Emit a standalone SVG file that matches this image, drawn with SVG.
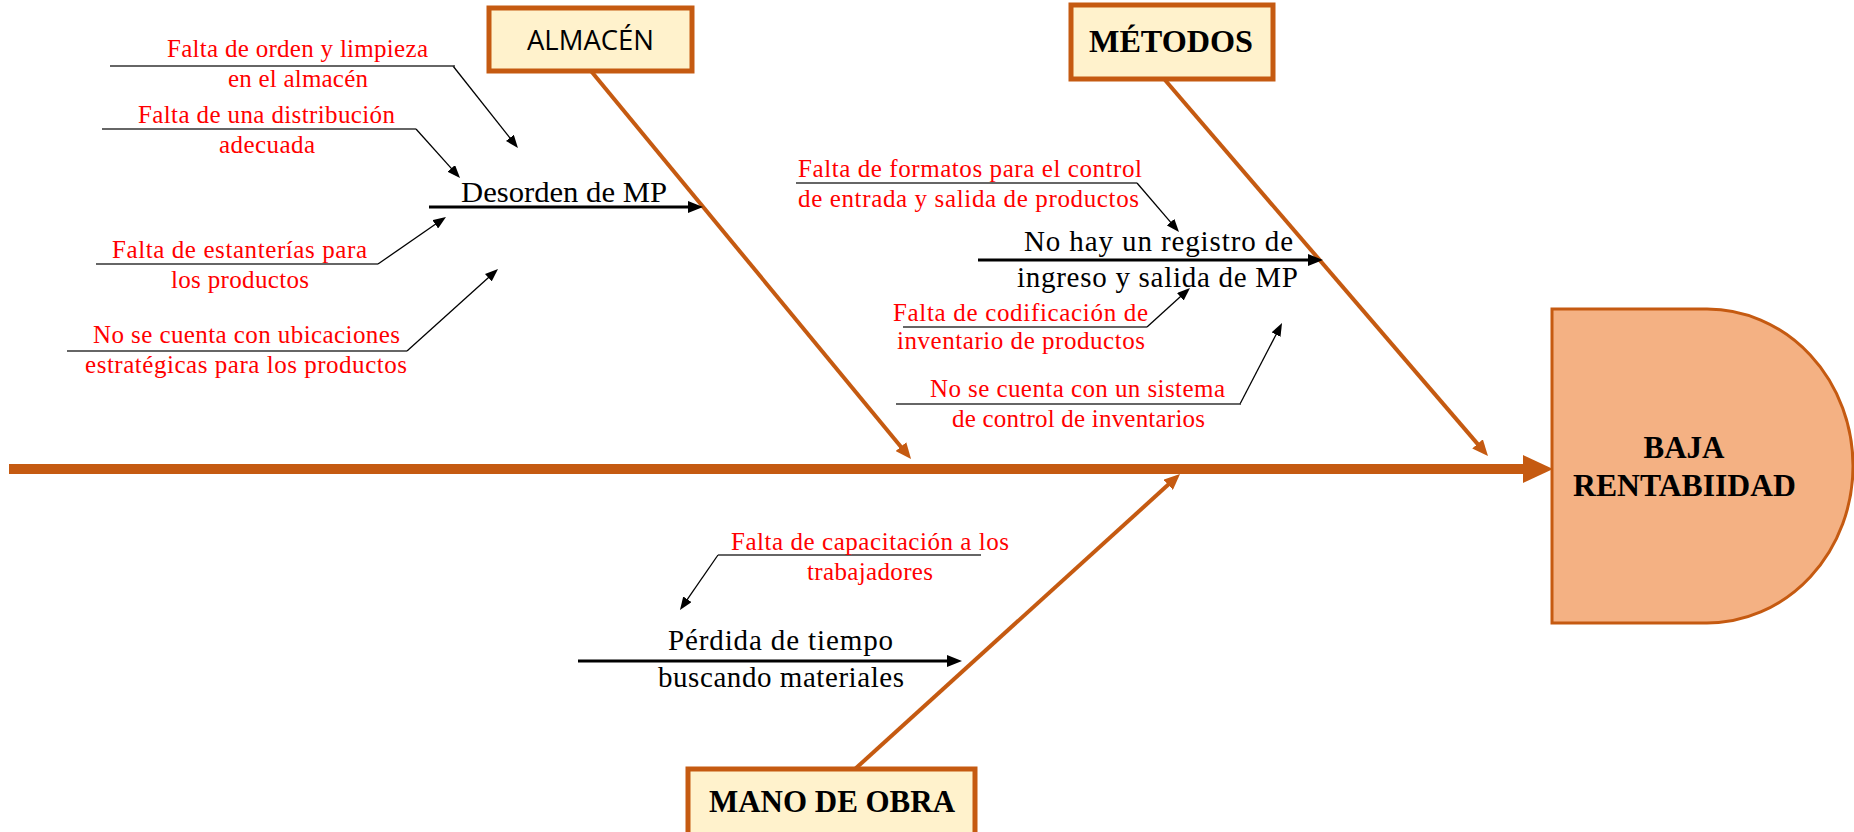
<svg xmlns="http://www.w3.org/2000/svg" width="1854" height="832" viewBox="0 0 1854 832">
<style>
.red{font-family:"Liberation Serif","Times New Roman",serif;font-size:25px;fill:#FF0000}
.blk{font-family:"Liberation Serif","Times New Roman",serif;font-size:29px;fill:#000}
.cat{font-family:"Liberation Serif","Times New Roman",serif;font-size:31px;font-weight:bold;fill:#000}
.box{fill:#FFF2CC;stroke:#C55A11;stroke-width:5}
.ul{stroke:#333;stroke-width:1.5}
.bone{stroke:#C55A11;stroke-width:4;fill:none}
.sub{stroke:#000;stroke-width:3;fill:none}
.thin{stroke:#000;stroke-width:1.3;fill:none}
</style>
<defs>
<marker id="aO" markerUnits="userSpaceOnUse" markerWidth="16" markerHeight="14" refX="1" refY="7" orient="auto"><path d="M0,0 L16,7 L0,14 Z" fill="#C55A11"/></marker>
<marker id="aB" markerUnits="userSpaceOnUse" markerWidth="15" markerHeight="12" refX="1" refY="6" orient="auto"><path d="M0,0 L15,6 L0,12 Z" fill="#000"/></marker>
<marker id="aT" markerUnits="userSpaceOnUse" markerWidth="13" markerHeight="10" refX="1" refY="5" orient="auto"><path d="M0,0 L13,5 L0,10 Z" fill="#000"/></marker>
</defs>
<rect width="1854" height="832" fill="#fff"/>

<g id="connectors">
<line x1="9" y1="469" x2="1524" y2="469" stroke="#C55A11" stroke-width="10"/>
<polygon points="1523,455 1553,469 1523,483" fill="#C55A11"/>
<line class="bone" x1="591" y1="71" x2="901.5" y2="447.4" marker-end="url(#aO)"/>
<line class="bone" x1="1165" y1="80" x2="1478.2" y2="444.6" marker-end="url(#aO)"/>
<line class="bone" x1="855" y1="769" x2="1168.9" y2="484.1" marker-end="url(#aO)"/>
<line class="sub" x1="429" y1="207" x2="689" y2="207" marker-end="url(#aB)"/>
<line class="sub" x1="978" y1="260" x2="1309" y2="260" marker-end="url(#aB)"/>
<line class="sub" x1="578" y1="661" x2="948" y2="661" marker-end="url(#aB)"/>
<line class="thin" x1="453" y1="66" x2="510.5" y2="138.6" marker-end="url(#aT)"/>
<line class="thin" x1="416" y1="129" x2="452" y2="169.1" marker-end="url(#aT)"/>
<line class="thin" x1="378" y1="264" x2="436.1" y2="223.8" marker-end="url(#aT)"/>
<line class="thin" x1="407" y1="351" x2="489.1" y2="277" marker-end="url(#aT)"/>
<line class="thin" x1="1137" y1="183" x2="1171.2" y2="222.9" marker-end="url(#aT)"/>
<line class="thin" x1="1147" y1="327" x2="1181.1" y2="296.1" marker-end="url(#aT)"/>
<line class="thin" x1="1240" y1="404" x2="1276.5" y2="333.7" marker-end="url(#aT)"/>
<line class="thin" x1="718" y1="555" x2="686.8" y2="600.1" marker-end="url(#aT)"/>
</g>

<g id="effect">
<path d="M1552,309 H1707 A146,157 0 0 1 1707,623 H1552 Z" fill="#F4B183" stroke="#C55A11" stroke-width="3"/>
<text class="cat" font-size="30" x="1684" y="458" text-anchor="middle">BAJA</text>
<text class="cat" font-size="30" x="1573" y="496" textLength="223" lengthAdjust="spacingAndGlyphs">RENTABIIDAD</text>
</g>

<g id="cat-almacen">
<rect class="box" x="489" y="8" width="203" height="63"/>
<text x="527" y="50" textLength="127" lengthAdjust="spacingAndGlyphs" style="font-family:'Open Sans','Liberation Sans',sans-serif;font-size:28px;fill:#000">ALMACÉN</text>
</g>
<g id="cat-metodos">
<rect class="box" x="1071" y="5" width="202" height="74"/>
<text class="cat" x="1089" y="52" textLength="164" lengthAdjust="spacingAndGlyphs">MÉTODOS</text>
</g>
<g id="cat-mano">
<rect class="box" x="688" y="769" width="287" height="70"/>
<text class="cat" x="709" y="812" textLength="246" lengthAdjust="spacingAndGlyphs">MANO DE OBRA</text>
</g>

<g id="sub-desorden">
<text class="blk" x="461" y="202" textLength="206" lengthAdjust="spacingAndGlyphs">Desorden de MP</text>
</g>
<g id="sub-registro">
<text class="blk" x="1024" y="251" textLength="269">No hay un registro de</text>
<text class="blk" x="1017" y="287" textLength="281">ingreso y salida de MP</text>
</g>
<g id="sub-perdida">
<text class="blk" x="668" y="650" textLength="225">Pérdida de tiempo</text>
<text class="blk" x="658" y="687" textLength="246">buscando materiales</text>
</g>

<g id="cause-orden">
<line class="ul" x1="110" y1="66" x2="455" y2="66"/>
<text class="red" x="167" y="57" textLength="261">Falta de orden y limpieza</text>
<text class="red" x="228" y="87" textLength="140">en el almacén</text>
</g>
<g id="cause-distribucion">
<line class="ul" x1="102" y1="129" x2="416" y2="129"/>
<text class="red" x="138" y="123" textLength="257">Falta de una distribución</text>
<text class="red" x="219" y="153" textLength="96">adecuada</text>
</g>
<g id="cause-estanterias">
<line class="ul" x1="96" y1="264" x2="378" y2="264"/>
<text class="red" x="112" y="258" textLength="255">Falta de estanterías  para</text>
<text class="red" x="171" y="288" textLength="138">los productos</text>
</g>
<g id="cause-ubicaciones">
<line class="ul" x1="67" y1="351" x2="407" y2="351"/>
<text class="red" x="93" y="343" textLength="307">No se cuenta  con ubicaciones</text>
<text class="red" x="85" y="373" textLength="322">estratégicas  para los productos</text>
</g>
<g id="cause-formatos">
<line class="ul" x1="796" y1="183" x2="1137" y2="183"/>
<text class="red" x="798" y="177" textLength="344">Falta de formatos  para el control</text>
<text class="red" x="798" y="207" textLength="341">de entrada  y salida  de productos</text>
</g>
<g id="cause-codificacion">
<line class="ul" x1="903" y1="327" x2="1147" y2="327"/>
<text class="red" x="893" y="321" textLength="255">Falta de codificación  de</text>
<text class="red" x="897" y="349" textLength="248">inventario  de productos</text>
</g>
<g id="cause-sistema">
<line class="ul" x1="896" y1="404" x2="1241" y2="404"/>
<text class="red" x="930" y="397" textLength="295">No se cuenta  con un sistema</text>
<text class="red" x="952" y="427" textLength="253">de control de inventarios</text>
</g>
<g id="cause-capacitacion">
<line class="ul" x1="718" y1="555" x2="981" y2="555"/>
<text class="red" x="731" y="550" textLength="278">Falta de capacitación  a los</text>
<text class="red" x="807" y="580" textLength="126">trabajadores</text>
</g>
</svg>
